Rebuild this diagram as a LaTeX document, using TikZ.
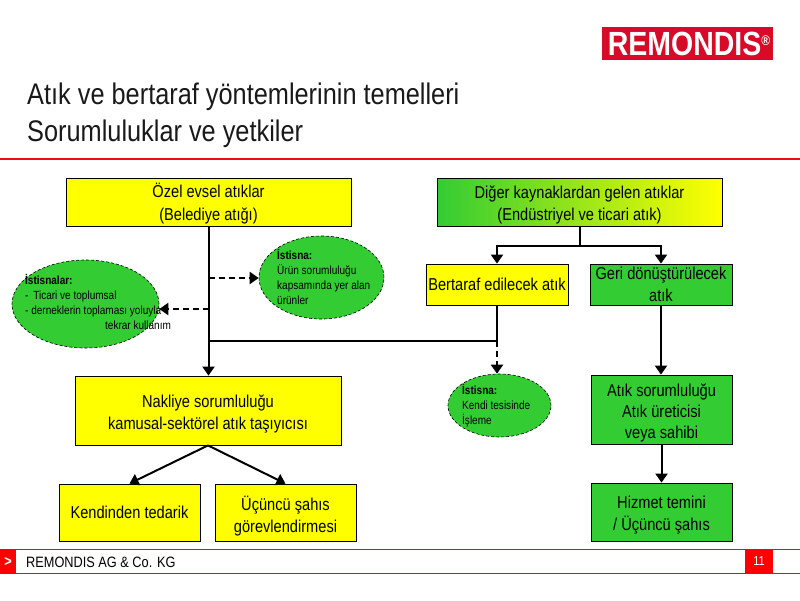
\documentclass[tikz,border=0pt]{standalone}
\usepackage{fontspec}
\setmainfont[FakeStretch=0.85]{Liberation Sans}
\usetikzlibrary{arrows.meta,shapes.geometric}
\definecolor{remred}{RGB}{215,10,40}
\definecolor{linered}{RGB}{235,10,30}
\definecolor{boxgreen}{RGB}{51,204,51}
\definecolor{boxyellow}{RGB}{255,255,0}
\def\dropline#1{\rule{0pt}{#1}}
\tikzset{
	box/.style={draw=black, line width=0.8pt, inner sep=0pt, align=center, font=\fontsize{17.2}{22}\selectfont},
	yellowbox/.style={box, fill=boxyellow},
	greenbox/.style={box, fill=boxgreen},
	blob/.style={ellipse, draw=black, densely dashed, line width=0.6pt, fill=boxgreen, inner sep=0pt},
	blobtext/.style={inner sep=0pt, anchor=north west, align=left, font=\fontsize{11.8}{15}\selectfont},
	flow/.style={line width=2pt, -{Triangle[length=9pt,width=12pt]}},
	plainflow/.style={line width=2pt},
	dashflow/.style={line width=2pt, dash pattern=on 6pt off 4pt, -{Triangle[length=9pt,width=12pt]}},
	redline/.style={line width=1.3pt, color=linered}
}

\begin{document}
\begin{tikzpicture}[x=1pt, y=-1pt]
			%%%%% FRAME %%%%%
			\useasboundingbox (0, 0) rectangle (800, 600);
			
			\node[fill=remred, text=white, minimum width=171pt, minimum height=33pt, inner sep=0pt, font=\fontsize{33.5}{33.5}\selectfont\bfseries] (logo) at (687.5, 43.5) {\hspace*{3pt}REMONDIS\raisebox{10pt}{\fontsize{14}{14}\selectfont ®}};
			
			\node[anchor=north west, inner sep=0pt, align=left, text=black!90, font=\fontsize{29.8}{37}\selectfont] (title) at (27, 83) {Atık ve bertaraf yöntemlerinin temelleri\\Sorumluluklar ve yetkiler};
			\draw[redline, line width=2pt] (0, 158.5) -- (800, 158.5);
			
			%%%%% BOXES %%%%%
			\node[yellowbox, minimum width=285pt, minimum height=48pt] (ozel) at (208.5, 202) {\dropline{18pt}Özel evsel atıklar\\[1pt](Belediye atığı)};
			\node[box, left color=boxgreen, right color=boxyellow, minimum width=285pt, minimum height=48pt] (diger) at (579.5, 202) {\dropline{19pt}Diğer kaynaklardan gelen atıklar\\(Endüstriyel ve ticari atık)};
			\node[yellowbox, minimum width=142pt, minimum height=41pt] (bertaraf) at (497, 284.5) {Bertaraf edilecek atık};
			\node[greenbox, minimum width=142pt, minimum height=41pt] (geri) at (661, 284.5) {Geri dönüştürülecek\\atık};
			\node[yellowbox, minimum width=266pt, minimum height=69pt] (nakliye) at (208, 410.5) {\dropline{19pt}Nakliye sorumluluğu\\kamusal-sektörel atık taşıyıcısı};
			\node[yellowbox, minimum width=141pt, minimum height=57pt] (kendi) at (129.5, 512.5) {Kendinden tedarik};
			\node[yellowbox, minimum width=141pt, minimum height=57pt] (ucuncu) at (285.5, 512.5) {\dropline{21pt}Üçüncü şahıs\\görevlendirmesi};
			\node[greenbox, minimum width=141pt, minimum height=69pt] (sorumlu) at (661.5, 409.5) {\dropline{20pt}Atık sorumluluğu\\[-1pt]Atık üreticisi\\[-1pt]veya sahibi};
			\node[greenbox, minimum width=141pt, minimum height=58pt] (hizmet) at (661.5, 512) {\dropline{19pt}Hizmet temini\\/ Üçüncü şahıs};
			
			%%%%% EXCEPTIONS %%%%%
			\node[blob, minimum width=147pt, minimum height=88pt] (istisnalar) at (85.5, 304) {};
			\node[blob, minimum width=125pt, minimum height=83pt] (urun) at (321.5, 277.5) {};
			\node[blob, minimum width=103pt, minimum height=63pt] (tesis) at (499.5, 405.5) {};
			
			\node[blobtext] (istisnalartext) at (25, 274) {\textbf{İstisnalar:}\\- \,Ticari ve toplumsal\\- derneklerin toplaması yoluyla\\\hspace*{80pt}tekrar kullanım};
			\node[blobtext] (uruntext) at (277, 249.5) {\textbf{İstisna:}\\Ürün sorumluluğu\\kapsamında yer alan\\ürünler};
			\node[blobtext] (tesistext) at (462, 384) {\textbf{İstisna:}\\Kendi tesisinde\\İşleme};
			
			%%%%% CONNECTORS %%%%%
			\coordinate (solgabel) at (208.5, 341);
			\coordinate (urunkol) at (208.5, 278);
			\coordinate (istisnakol) at (208.5, 309);
			\coordinate (digergabel) at (579.5, 246);
			\coordinate (bertarafkol) at (bertaraf.south |- solgabel);
			
			\draw[flow] (ozel.south) -- (nakliye.north -| ozel.south);
			\draw[dashflow] (urunkol) -- (urunkol -| urun.west);
			\draw[dashflow] (istisnakol) -- (istisnakol -| istisnalar.east);
			\draw[plainflow] (solgabel) -- (bertarafkol);
			\draw[plainflow] (bertaraf.south) -- (bertarafkol);
			\draw[dashflow] (bertarafkol) -- (tesis.north -| bertarafkol);
			
			\draw[plainflow] (diger.south) -- (digergabel);
			\draw[flow] (digergabel) -| (bertaraf.north);
			\draw[flow] (digergabel) -| (geri.north);
			\draw[flow] (geri.south) -- (sorumlu.north -| geri.south);
			\draw[flow] (sorumlu.south) -- (hizmet.north);
			\draw[flow] (nakliye.south) -- (kendi.north);
			\draw[flow] (nakliye.south) -- (ucuncu.north);
			
			%%%%% FOOTER %%%%%
			\draw[redline] (0, 549.5) -- (800, 549.5);
			\draw[redline] (0, 573.5) -- (800, 573.5);
			\node[fill=red, text=white, minimum width=16pt, minimum height=25pt, inner sep=0pt, font=\fontsize{15}{15}\selectfont\bfseries] (pfeil) at (8, 561.5) {>};
			\node[anchor=west, inner sep=0pt, font=\fontsize{15}{15}\selectfont] (firma) at (26, 562.5) {REMONDIS AG \& Co. KG};
			\node[fill=red, text=white, minimum width=28pt, minimum height=25pt, inner sep=0pt, font=\fontsize{13}{13}\selectfont] (seite) at (759, 561.5) {11};
			
			%%%%% END %%%%%
		\end{tikzpicture}
\end{document}
